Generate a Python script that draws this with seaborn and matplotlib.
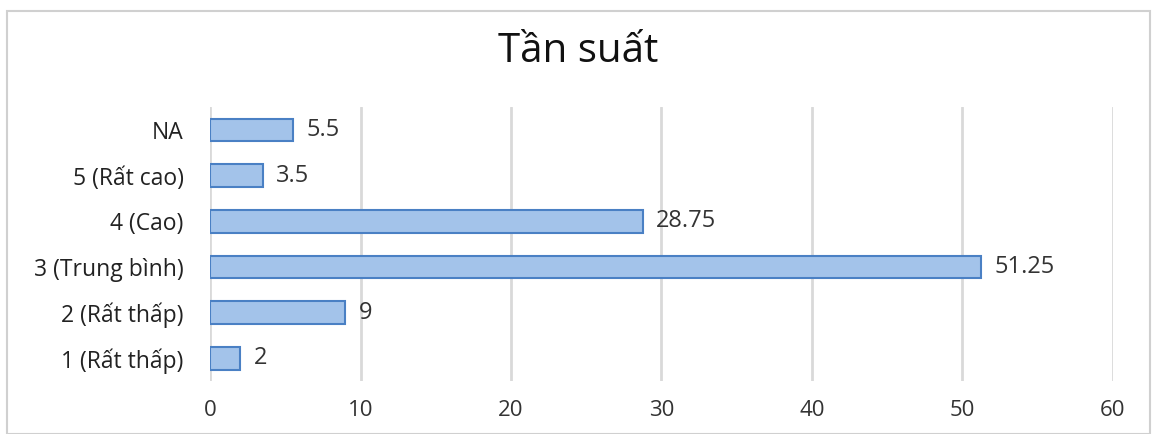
import pandas as pd
import seaborn as sns
import matplotlib.pyplot as plt
from matplotlib.patches import Rectangle

categories = ["NA", "5 (Rất cao)", "4 (Cao)", "3 (Trung bình)", "2 (Rất thấp)", "1 (Rất thấp)"]
values = [5.5, 3.5, 28.75, 51.25, 9, 2]
value_labels = ["5.5", "3.5", "28.75", "51.25", "9", "2"]
xticks = [0, 10, 20, 30, 40, 50, 60]

df = pd.DataFrame({"cat": categories, "val": values})

sns.set_style("white")
plt.rcParams["font.family"] = ["Open Sans", "DejaVu Sans"]

fig = plt.figure(figsize=(11.56, 4.34), dpi=100)
ax = fig.add_axes([0.1817, 0.122, 0.781, 0.631])

sns.barplot(data=df, x="val", y="cat", orient="h", color="#a3c3ea",
            edgecolor="#4a80c4", linewidth=1.5, width=0.5, saturation=1, ax=ax)

for i, lab in enumerate(value_labels):
    ax.text(values[i] + 0.9, i, lab, va="center", ha="left", fontsize=17, color="#333333")

ax.set_xlim(0, 60)
ax.set_ylim(5.5, -0.5)
ax.set_xticks(xticks)
ax.set_xticklabels([str(t) for t in xticks])
ax.xaxis.grid(True, color="#d9d9d9", linewidth=2)
ax.set_axisbelow(True)
for s in ax.spines.values():
    s.set_visible(False)
ax.set_xlabel("")
ax.set_ylabel("")
ax.tick_params(axis="x", length=0, pad=14, labelsize=16, labelcolor="#333333")
ax.tick_params(axis="y", length=0, pad=19, labelsize=16.5, labelcolor="#222222")

fig.text(0.5, 0.88, "Tần suất", ha="center", va="center", fontsize=29, color="#111111")

fig.patches.append(Rectangle((0.006, 0.0), 0.989, 0.975, transform=fig.transFigure,
                             fill=False, edgecolor="#d0d0d0", linewidth=1.5))

fig.savefig("out.png", dpi=100)
